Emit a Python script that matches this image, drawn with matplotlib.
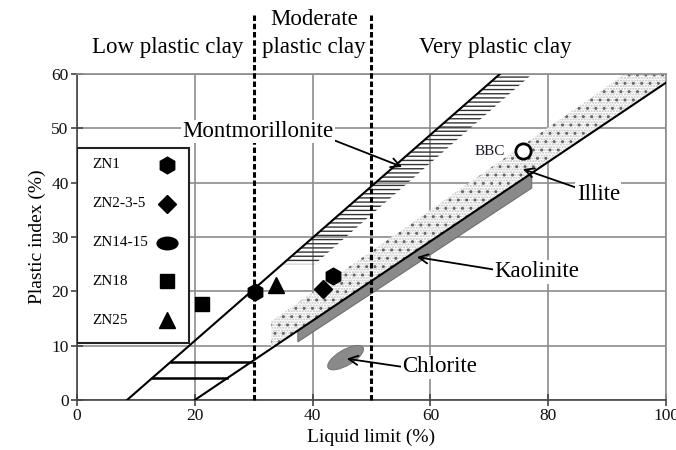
import numpy as np
import matplotlib.pyplot as plt
from matplotlib.patches import Polygon, Ellipse, Rectangle
from matplotlib.path import Path
from matplotlib.transforms import Affine2D

plt.rcParams['font.family'] = ['Liberation Serif', 'DejaVu Serif']
plt.rcParams['hatch.linewidth'] = 1.0

# Boundary lines of the chart (liquid limit %, plastic index %)
upper_ll = [8.5, 71.8]
upper_pi = [0, 60]
a_ll = [20, 100]
a_pi = [0, 58.4]
low_zone_pi = [4, 7]
zone_ll = [30, 50]

# Clay mineral zones
mont_pi = [25, 60]
mont_width = 5.5
illite_ll = [33, 100]
illite_top_ll = [33, 93]
illite_top_pi = [14.5, 60]
kaol_ll = [37.5, 77.2]
kaol_bottom_pi = [10.7, 39.0]
chlorite_xy = (45.6, 7.8)
chlorite_size = (7.0, 2.8)

# Samples
zn1_ll, zn1_pi = [30.3, 43.4], [19.9, 22.8]
zn235_ll, zn235_pi = [41.7], [20.4]
zn18_ll, zn18_pi = [21.3], [17.7]
zn25_ll, zn25_pi = [33.8], [21.2]
bbc_ll, bbc_pi = [75.7], [45.9]

legend_labels = ['ZN1', 'ZN2-3-5', 'ZN14-15', 'ZN18', 'ZN25']


def upper_at(pi):
    return np.interp(pi, upper_pi, upper_ll)


def a_ll_at(pi):
    return np.interp(pi, a_pi, a_ll)


def a_pi_at(ll):
    return np.interp(ll, a_ll, a_pi)


fig = plt.figure(figsize=(6.76, 4.5), dpi=100)
ax = fig.add_axes([0.1139, 0.1111, 0.8713, 0.7245])
ax.set_xlim(0, 100)
ax.set_ylim(0, 60)
ax.set_xticks(np.arange(0, 101, 20))
ax.set_yticks(np.arange(0, 61, 10))
ax.grid(True, color='#8c8c8c', lw=1.2, zorder=0)
ax.set_axisbelow(True)
for s in ['top', 'right']:
    ax.spines[s].set_color('#8c8c8c')
    ax.spines[s].set_linewidth(1.2)
for s in ['left', 'bottom']:
    ax.spines[s].set_color('#444444')
    ax.spines[s].set_linewidth(1.2)
ax.tick_params(direction='inout', length=8, width=1.2, color='#444444',
               labelsize=12.5, labelcolor='#111111', pad=2)
ax.set_xlabel('Liquid limit (%)', fontsize=14, labelpad=3)
ax.set_ylabel('Plastic index (%)', fontsize=14, labelpad=4)

# zones
mont_left = upper_at(np.array(mont_pi))
ax.add_patch(Polygon([(mont_left[0], mont_pi[0]), (mont_left[1], mont_pi[1]),
                      (mont_left[1] + mont_width, mont_pi[1]),
                      (mont_left[0] + mont_width, mont_pi[0])],
                     facecolor='none', edgecolor='#333333', lw=0,
                     hatch='----', zorder=2))

illite_poly = [(illite_ll[0], a_pi_at(illite_ll[0])), (illite_ll[1], a_pi_at(illite_ll[1])),
               (100, 60), (illite_top_ll[1], illite_top_pi[1]),
               (illite_top_ll[0], illite_top_pi[0])]
ax.add_patch(Polygon(illite_poly, facecolor='white', edgecolor='#c0c0c0', lw=0,
                     hatch='......', zorder=2))
ax.add_patch(Polygon(illite_poly, facecolor='none', edgecolor='#666666', lw=0,
                     hatch='..', zorder=2))

ax.add_patch(Polygon([(kaol_ll[0], a_pi_at(kaol_ll[0])), (kaol_ll[1], a_pi_at(kaol_ll[1])),
                      (kaol_ll[1], kaol_bottom_pi[1]), (kaol_ll[0], kaol_bottom_pi[0])],
                     facecolor='#8a8a8a', edgecolor='#6f6f6f', lw=0.8, zorder=2))
ax.add_patch(Ellipse(chlorite_xy, chlorite_size[0], chlorite_size[1], angle=33,
                     facecolor='#8a8a8a', edgecolor='#777777', lw=0.8, zorder=2))

# boundary lines
ax.plot(upper_ll, upper_pi, color='black', lw=1.5, zorder=3)
ax.plot(a_ll, a_pi, color='black', lw=1.5, zorder=3)
for p in low_zone_pi:
    ax.plot([upper_at(p), a_ll_at(p)], [p, p], color='black', lw=1.8, zorder=3)
for x in zone_ll:
    ax.plot([x, x], [0, 71], color='black', lw=2.2, ls=(0, (1.8, 0.9)),
            clip_on=False, zorder=3)

# region labels
ax.text(15.4, 64.8, 'Low plastic clay', ha='center', va='center', fontsize=16.5)
ax.text(40.2, 70.0, 'Moderate', ha='center', va='center', fontsize=16.5)
ax.text(40.2, 64.8, 'plastic clay', ha='center', va='center', fontsize=16.5)
ax.text(71.0, 64.8, 'Very plastic clay', ha='center', va='center', fontsize=16.5)

# samples
ellipse_marker = Path.unit_circle().transformed(Affine2D().scale(1, 0.6))
ax.plot(zn1_ll, zn1_pi, 'h', color='black', ms=12, zorder=5)
ax.plot(zn235_ll, zn235_pi, 'D', color='black', ms=9, zorder=5)
ax.plot(zn18_ll, zn18_pi, 's', color='black', ms=10, zorder=5)
ax.plot(zn25_ll, zn25_pi, '^', color='black', ms=12, zorder=5)
ax.plot(bbc_ll, bbc_pi, 'o', mfc='white', mec='black', mew=2, ms=11, zorder=5)
ax.text(70.1, 45.7, 'BBC', ha='center', va='center', fontsize=11, color='#1a1a2a')

# annotations
box = dict(facecolor='white', edgecolor='none', pad=1)
arrow = dict(arrowstyle='->', color='black', lw=1.3, shrinkA=0, shrinkB=0)
ax.annotate('Montmorillonite', xy=(55.2, 42.9), xytext=(30.7, 49.4), ha='center',
            va='center', fontsize=16.5, bbox=box,
            arrowprops=dict(arrow, relpos=(1, 0.1)), zorder=4)
ax.annotate('Illite', xy=(75.7, 42.5), xytext=(88.5, 37.9), ha='center',
            va='center', fontsize=16.5, bbox=box,
            arrowprops=dict(arrow, relpos=(0, 0.8)), zorder=4)
ax.annotate('Kaolinite', xy=(57.7, 26.3), xytext=(78.1, 23.6), ha='center',
            va='center', fontsize=16.5, bbox=box,
            arrowprops=dict(arrow, relpos=(0, 0.6)), zorder=4)
ax.annotate('Chlorite', xy=(45.8, 7.6), xytext=(61.6, 6.1), ha='center',
            va='center', fontsize=16.5, bbox=box,
            arrowprops=dict(arrow, relpos=(0, 0.5)), zorder=4)

# legend box drawn by hand (labels left, symbols right)
leg_markers = [('h', 12), ('D', 9), (ellipse_marker, 15), ('s', 10), ('^', 12)]
leg_rows = np.linspace(0.721, 0.245, len(legend_labels))
ax.add_patch(Rectangle((0, 0.175), 0.19, 0.598, transform=ax.transAxes,
                       facecolor='white', edgecolor='#222222', lw=1.5, zorder=6))
for lab, (mk, ms), yy in zip(legend_labels, leg_markers, leg_rows):
    ax.text(0.026, yy, lab, transform=ax.transAxes, ha='left', va='center',
            fontsize=11, zorder=7)
    ax.plot([0.153], [yy], marker=mk, ms=ms, color='black', ls='none',
            transform=ax.transAxes, zorder=7)

fig.savefig('out.png', dpi=100)
